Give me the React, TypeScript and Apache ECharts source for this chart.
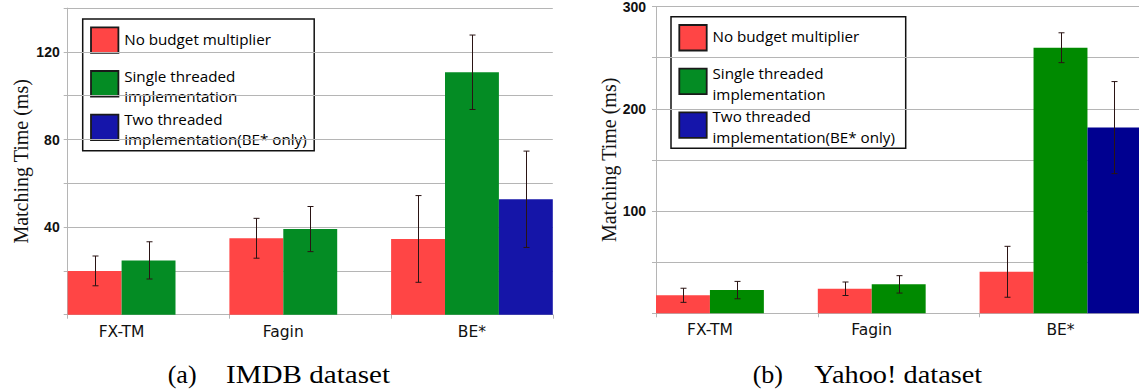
import React, { useEffect, useRef } from "react";
import * as echarts from "echarts";

// ---------- data ----------
const categories = ["FX-TM", "Fagin", "BE*"];
const seriesNames = [
  "No budget multiplier",
  "Single threaded\nimplementation",
  "Two threaded\nimplementation(BE* only)",
];

// IMDB dataset (ms)
const imdbNoBudget = [20.0, 34.9, 34.6];
const imdbSingle = [24.8, 39.1, 110.7];
const imdbTwo = [null, null, 52.7];
const imdbNoBudgetErr = [6.8, 9.1, 19.8];
const imdbSingleErr = [8.5, 10.3, 17.0];
const imdbTwoErr = [null, null, 22.0];

// Yahoo! dataset (ms)
const yahooNoBudget = [17.6, 24.0, 40.6];
const yahooSingle = [22.7, 28.3, 259.7];
const yahooTwo = [null, null, 181.6];
const yahooNoBudgetErr = [6.9, 6.6, 24.9];
const yahooSingleErr = [8.5, 8.5, 14.6];
const yahooTwoErr = [null, null, 45.0];

const imdbTickLabels = [40, 80, 120];
const yahooTickLabels = [100, 200, 300];

const captions = [
  ["(a)", "IMDB dataset"],
  ["(b)", "Yahoo! dataset"],
];
const yAxisTitle = "Matching Time (ms)";

// ---------- styles ----------
const COLORS_IMDB = ["#ff4545", "#048c24", "#1515a8"];
const COLORS_YAHOO = ["#ff4545", "#008a00", "#000090"];
const LEGEND_COLORS = ["#ff4545", "#048c24", "#1515aa"];
const GRID_COLOR = "#b5b5b5";
const ERR_COLOR = "#2a1414";

function barSeries(gridIdx: number, lists: any[], colors: string[]) {
  return lists.map((vals, i) => ({
    type: "bar",
    name: seriesNames[i],
    xAxisIndex: gridIdx,
    yAxisIndex: gridIdx,
    data: vals,
    barGap: "0%",
    barCategoryGap: "0%",
    itemStyle: { color: colors[i] },
    silent: true,
  }));
}

function errSeries(gridIdx: number, lists: any[], errs: any[]) {
  const data: any[] = [];
  lists.forEach((vals: any[], s: number) =>
    vals.forEach((v, c) => {
      if (v != null && errs[s][c] != null) data.push([c, v, errs[s][c], s]);
    })
  );
  return {
    type: "custom",
    xAxisIndex: gridIdx,
    yAxisIndex: gridIdx,
    data,
    encode: { x: 0, y: 1 },
    z: 10,
    silent: true,
    renderItem: (params: any, api: any) => {
      const cat = api.value(0);
      const val = api.value(1);
      const err = api.value(2);
      const s = api.value(3);
      const bw = api.size([1, 0])[0];
      const cx = Math.round(api.coord([cat, 0])[0] + (s - 1) * (bw / 3)) + 0.5;
      const top = api.coord([cat, val + err])[1];
      const bot = api.coord([cat, val - err])[1];
      const st = { stroke: ERR_COLOR, lineWidth: 1 };
      return {
        type: "group",
        children: [
          { type: "line", shape: { x1: cx, y1: top, x2: cx, y2: bot }, style: st },
          { type: "line", shape: { x1: cx - 3, y1: top, x2: cx + 3, y2: top }, style: st },
          { type: "line", shape: { x1: cx - 3, y1: bot, x2: cx + 3, y2: bot }, style: st },
        ],
      };
    },
  };
}

function xAxis(gridIdx: number) {
  return {
    type: "category",
    gridIndex: gridIdx,
    data: categories,
    axisLine: { show: true, lineStyle: { color: GRID_COLOR, width: 1 } },
    axisTick: { show: true, length: 4, lineStyle: { color: GRID_COLOR } },
    axisLabel: {
      margin: 9,
      formatter: (v: string, idx: number) => (idx < 2 ? `{s|${v}}` : `{n|${v}}`),
      rich: {
        s: { padding: [0, 54, 0, 0], fontFamily: "DejaVu Sans", fontSize: 15.5, color: "#111" },
        n: { fontFamily: "DejaVu Sans", fontSize: 15.5, color: "#111" },
      },
    },
  };
}

function yAxis(gridIdx: number, max: number, interval: number, labels: number[], margin: number, nameGap: number) {
  return {
    type: "value",
    gridIndex: gridIdx,
    min: 0,
    max,
    interval,
    name: yAxisTitle,
    nameLocation: "middle",
    nameGap,
    nameTextStyle: { fontFamily: "Liberation Serif", fontSize: 20, color: "#111" },
    axisLine: { show: true, lineStyle: { color: GRID_COLOR, width: 1 } },
    axisTick: { show: true, length: 4, lineStyle: { color: GRID_COLOR } },
    splitLine: { show: true, lineStyle: { color: GRID_COLOR, width: 1 } },
    axisLabel: {
      margin,
      fontFamily: "Liberation Sans",
      fontWeight: "bold",
      fontSize: 14,
      lineHeight: 12,
      color: "#111",
      formatter: (v: number) => (labels.includes(v) ? String(v) : ""),
    },
  };
}

function legendGraphic(x: number, y: number, w: number, h: number) {
  const swatchTops = [8.3, 52, 95.6];
  const textCenters = [19.5, 66.8, 109.8];
  const children: any[] = [
    {
      type: "rect",
      shape: { x: 0, y: 0, width: w, height: h },
      style: { fill: "#fff", stroke: "#111", lineWidth: 1.5 },
    },
  ];
  seriesNames.forEach((name, i) => {
    children.push({
      type: "rect",
      shape: { x: 8.3, y: swatchTops[i], width: 27.4, height: 25.5 },
      style: { fill: LEGEND_COLORS[i], stroke: "#1a1a1a", lineWidth: 1.8 },
    });
    children.push({
      type: "text",
      x: 41.5,
      y: textCenters[i],
      style: {
        text: name,
        fontFamily: "Open Sans",
        fontSize: 15.2,
        lineHeight: 20.5,
        fill: "#000",
        align: "left",
        verticalAlign: "middle",
      },
    });
  });
  return { type: "group", x, y, z: 100, children };
}

function captionGraphic(x1: number, x2: number, y: number, parts: string[], sx: number) {
  const st = { fontFamily: "Liberation Serif", fontSize: 26, fill: "#000", verticalAlign: "middle", align: "left" };
  return [
    { type: "text", x: x1, y, style: { ...st, text: parts[0] } },
    { type: "text", x: x2, y, scaleX: sx, style: { ...st, text: parts[1] } },
  ];
}

export default function App() {
  const ref = useRef<HTMLDivElement>(null);
  useEffect(() => {
    if (!ref.current) return;
    const chart = echarts.init(ref.current, null, { renderer: "svg" });
    const option: any = {
      animation: false,
      backgroundColor: "#fff",
      grid: [
        { left: 67.7, top: 8.1, width: 485.1, height: 306.6, outerBoundsMode: "none", containLabel: false },
        { left: 656, top: 6.5, width: 485.4, height: 306.8, outerBoundsMode: "none", containLabel: false },
      ],
      xAxis: [xAxis(0), xAxis(1)],
      yAxis: [
        yAxis(0, 140, 20, imdbTickLabels, 8, 37),
        yAxis(1, 300, 50, yahooTickLabels, 10, 31),
      ],
      series: [
        ...barSeries(0, [imdbNoBudget, imdbSingle, imdbTwo], COLORS_IMDB),
        errSeries(0, [imdbNoBudget, imdbSingle, imdbTwo], [imdbNoBudgetErr, imdbSingleErr, imdbTwoErr]),
        ...barSeries(1, [yahooNoBudget, yahooSingle, yahooTwo], COLORS_YAHOO),
        errSeries(1, [yahooNoBudget, yahooSingle, yahooTwo], [yahooNoBudgetErr, yahooSingleErr, yahooTwoErr]),
      ],
      graphic: [
        legendGraphic(82.7, 19, 231.5, 131.7),
        legendGraphic(671, 16.7, 234.7, 131.6),
        ...captionGraphic(167.7, 226, 374.5, captions[0], 1.12),
        ...captionGraphic(752.7, 814.3, 374.5, captions[1], 1.09),
      ],
    };
    chart.setOption(option);
    return () => chart.dispose();
  }, []);
  return (
    <div
      ref={ref}
      style={{ position: "absolute", left: 0, top: 0, width: 1139, height: 391, background: "#fff" }}
    />
  );
}
